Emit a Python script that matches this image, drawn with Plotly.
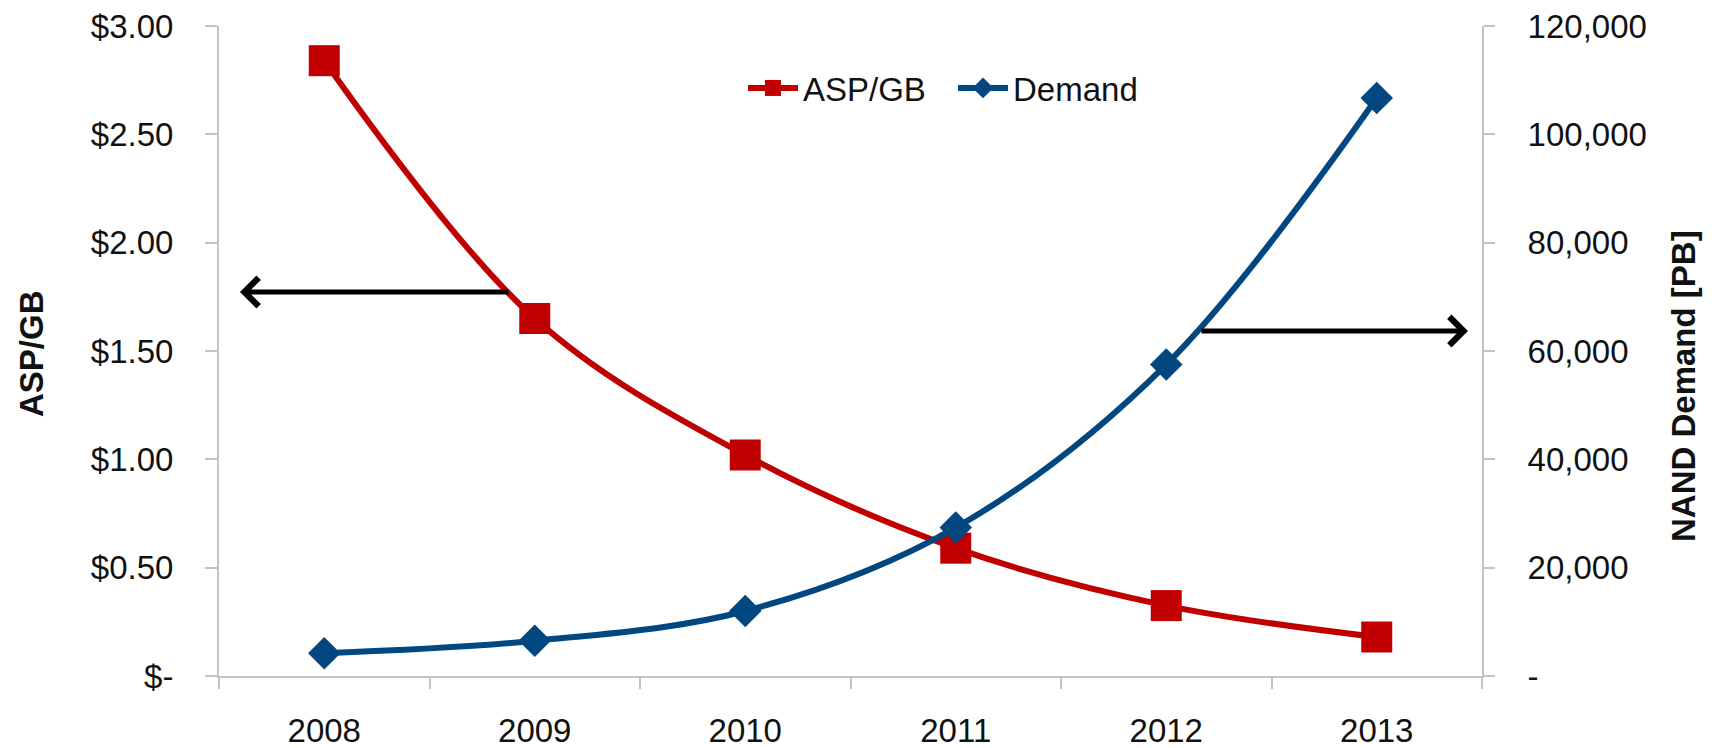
import plotly.graph_objects as go

years = ["2008", "2009", "2010", "2011", "2012", "2013"]
asp_per_gb = [2.84, 1.65, 1.02, 0.59, 0.325, 0.18]
demand_pb = [4200, 6500, 12000, 27400, 57500, 106700]

left_tickvals = [0, 0.5, 1.0, 1.5, 2.0, 2.5, 3.0]
left_ticktext = ["$-", "$0.50", "$1.00", "$1.50", "$2.00", "$2.50", "$3.00"]
right_tickvals = [0, 20000, 40000, 60000, 80000, 100000, 120000]
right_ticktext = ["-", "20,000", "40,000", "60,000", "80,000", "100,000", "120,000"]

RED = "#C00000"
BLUE = "#02477F"
AXIS = "#C4C4C4"
FONT = "Liberation Sans, Arial, sans-serif"

# page body has an 8px margin; figure coordinates = window coordinates - 8
W, H = 1709, 740
PL, PR, PT, PB = 211, 1474, 18, 668  # plot area in figure pixels
PW, PH = PR - PL, PB - PT


def px(xw):
    return (xw - 8 - PL) / PW


def py(yw):
    return (PB - (yw - 8)) / PH


fig = go.Figure()
fig.add_trace(go.Scatter(
    x=years, y=asp_per_gb, name="ASP/GB", mode="lines+markers",
    line=dict(color=RED, width=6, shape="spline", smoothing=1.0),
    marker=dict(symbol="square", size=31, color=RED),
    yaxis="y",
))
fig.add_trace(go.Scatter(
    x=years, y=demand_pb, name="Demand", mode="lines+markers",
    line=dict(color=BLUE, width=6, shape="spline", smoothing=1.0),
    marker=dict(symbol="diamond", size=25, color=BLUE),
    yaxis="y2",
))

fig.update_layout(
    width=W, height=H,
    margin=dict(l=PL, r=W - PR, t=PT, b=H - PB, autoexpand=False),
    paper_bgcolor="white", plot_bgcolor="white",
    font=dict(family=FONT, size=33, color="#111111"),
    showlegend=True,
    legend=dict(orientation="h", x=px(743), y=py(88), xanchor="left", yanchor="middle",
                font=dict(size=33), bgcolor="rgba(0,0,0,0)",
                itemwidth=50, entrywidth=145, entrywidthmode="pixels",
                traceorder="normal"),
    xaxis=dict(
        type="category", showline=True, linecolor=AXIS, linewidth=2,
        ticks="outside", tickson="boundaries", ticklen=11, tickcolor=AXIS, tickwidth=2,
        showgrid=False, zeroline=False, ticklabelstandoff=24, range=[-0.5, 5.5],
        automargin=False, ticklabeloverflow="allow",
    ),
    yaxis=dict(
        range=[0, 3.0], tickvals=left_tickvals, ticktext=left_ticktext,
        showline=True, linecolor=AXIS, linewidth=2,
        ticks="outside", ticklen=12, tickcolor=AXIS, tickwidth=2,
        showgrid=False, zeroline=False, ticklabelstandoff=25, automargin=False,
        ticklabeloverflow="allow",
    ),
    yaxis2=dict(
        range=[0, 120000], tickvals=right_tickvals, ticktext=right_ticktext,
        overlaying="y", side="right",
        showline=True, linecolor=AXIS, linewidth=2,
        ticks="outside", ticklen=11, tickcolor=AXIS, tickwidth=2,
        showgrid=False, zeroline=False, ticklabelstandoff=26, automargin=False,
        ticklabeloverflow="allow",
    ),
)

# axis titles
fig.add_annotation(text="<b>ASP/GB</b>", textangle=-90, xref="paper", yref="paper",
                   x=px(31), y=py(354), showarrow=False,
                   font=dict(size=33, family=FONT, color="#111111"),
                   xanchor="center", yanchor="middle")
fig.add_annotation(text="<b>NAND Demand [PB]</b>", textangle=-90, xref="paper", yref="paper",
                   x=px(1683), y=py(386), showarrow=False,
                   font=dict(size=33, family=FONT, color="#111111"),
                   xanchor="center", yanchor="middle")

# arrows pointing to each axis
fig.add_annotation(xref="paper", yref="paper", x=px(240), y=py(292),
                   ax=270, ay=0, text="", showarrow=True, arrowhead=4, arrowsize=1.1,
                   arrowwidth=5, arrowcolor="black")
fig.add_annotation(xref="paper", yref="paper", x=px(1468), y=py(331),
                   ax=-268, ay=0, text="", showarrow=True, arrowhead=4, arrowsize=1.1,
                   arrowwidth=5, arrowcolor="black")

fig.write_html("out.html")
